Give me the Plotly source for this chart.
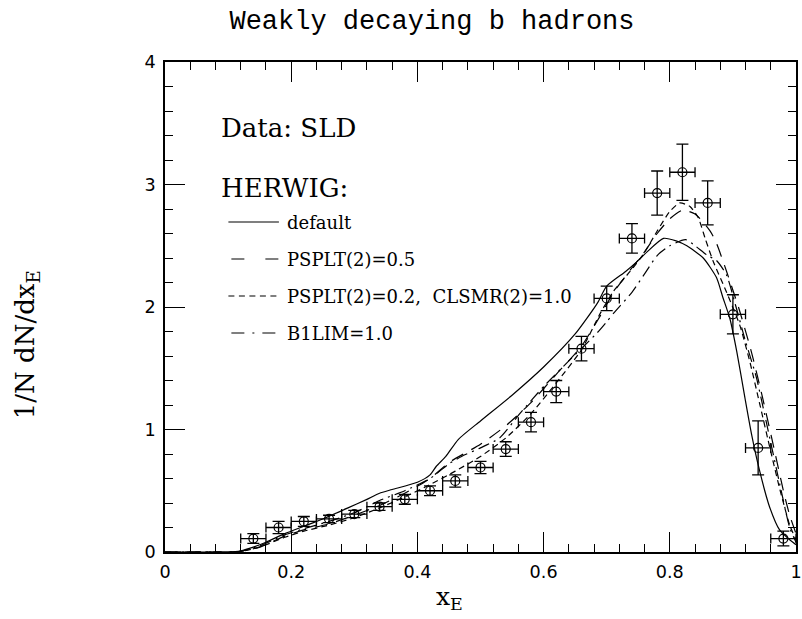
import plotly.graph_objects as go

# ---------------- data ----------------
data_x = [0.14, 0.18, 0.22, 0.26, 0.30, 0.34, 0.38, 0.42, 0.46, 0.50, 0.54,
          0.58, 0.62, 0.66, 0.70, 0.74, 0.78, 0.82, 0.86, 0.90, 0.94, 0.98]
data_y = [0.11, 0.20, 0.25, 0.27, 0.31, 0.37, 0.43, 0.50, 0.58, 0.69, 0.84,
          1.06, 1.31, 1.66, 2.07, 2.56, 2.93, 3.10, 2.85, 1.94, 0.85, 0.11]
data_ey = [0.04, 0.05, 0.04, 0.03, 0.03, 0.03, 0.04, 0.04, 0.05, 0.05, 0.06,
           0.08, 0.09, 0.10, 0.10, 0.12, 0.18, 0.23, 0.18, 0.16, 0.22, 0.06]
data_ex = [0.02] * len(data_x)

default_x = [0.0, 0.10, 0.12, 0.14, 0.16, 0.19, 0.22, 0.25, 0.29, 0.32, 0.34, 0.36,
             0.40, 0.42, 0.43, 0.445, 0.465, 0.50, 0.55, 0.60, 0.65, 0.685, 0.70,
             0.73, 0.748, 0.764, 0.79, 0.81, 0.827, 0.853, 0.874, 0.884, 0.895,
             0.906, 0.919, 0.93, 0.942, 0.958, 0.974, 0.99, 1.0]
default_y = [0.0, 0.0, 0.01, 0.04, 0.08, 0.15, 0.21, 0.27, 0.36, 0.43, 0.48, 0.51,
             0.57, 0.63, 0.70, 0.78, 0.92, 1.07, 1.28, 1.51, 1.78, 2.03, 2.17,
             2.29, 2.37, 2.45, 2.56, 2.54, 2.50, 2.40, 2.24, 2.08, 1.91,
             1.64, 1.26, 0.95, 0.67, 0.37, 0.18, 0.10, 0.06]

psplt05_x = [0.0, 0.10, 0.12, 0.15, 0.19, 0.22, 0.26, 0.30, 0.34, 0.38, 0.42, 0.45,
             0.50, 0.54, 0.58, 0.62, 0.66, 0.69, 0.711, 0.737, 0.76, 0.78, 0.80,
             0.82, 0.84, 0.864, 0.874, 0.89, 0.91, 0.93, 0.947, 0.965, 0.98, 0.99, 1.0]
psplt05_y = [0.0, 0.0, 0.005, 0.04, 0.13, 0.18, 0.23, 0.30, 0.38, 0.48, 0.60, 0.73,
             0.88, 1.03, 1.22, 1.45, 1.68, 1.93, 2.12, 2.30, 2.45, 2.60, 2.72,
             2.79, 2.76, 2.62, 2.52, 2.29, 1.98, 1.62, 1.26, 0.85, 0.50, 0.30, 0.15]

psplt02_x = [0.0, 0.10, 0.12, 0.15, 0.19, 0.22, 0.26, 0.30, 0.34, 0.38, 0.42, 0.46,
             0.50, 0.54, 0.58, 0.62, 0.66, 0.69, 0.711, 0.737, 0.758, 0.78, 0.80,
             0.816, 0.832, 0.845, 0.856, 0.869, 0.89, 0.911, 0.927, 0.942, 0.96,
             0.975, 0.99, 1.0]
psplt02_y = [0.0, 0.0, 0.005, 0.04, 0.12, 0.17, 0.22, 0.28, 0.36, 0.45, 0.55, 0.66,
             0.78, 0.93, 1.13, 1.38, 1.65, 1.95, 2.13, 2.29, 2.43, 2.62, 2.78,
             2.85, 2.82, 2.73, 2.56, 2.37, 2.12, 1.85, 1.55, 1.22, 0.82,
             0.50, 0.22, 0.10]

b1lim_x = [0.0, 0.10, 0.12, 0.15, 0.19, 0.22, 0.26, 0.30, 0.34, 0.38, 0.42, 0.45,
           0.47, 0.50, 0.53, 0.564, 0.60, 0.64, 0.685, 0.70, 0.711, 0.74, 0.76,
           0.78, 0.80, 0.825, 0.84, 0.86, 0.874, 0.89, 0.905, 0.92, 0.937, 0.95,
           0.974, 0.99, 1.0]
b1lim_y = [0.0, 0.0, 0.005, 0.05, 0.14, 0.19, 0.25, 0.32, 0.42, 0.50, 0.60, 0.72,
           0.78, 0.85, 0.93, 1.14, 1.35, 1.56, 1.79, 1.88, 1.95, 2.12, 2.27,
           2.42, 2.50, 2.55, 2.50, 2.42, 2.38, 2.26, 2.00, 1.72, 1.43, 1.13,
           0.56, 0.20, 0.08]

legend_labels = ["default", "PSPLT(2)=0.5", "PSPLT(2)=0.2,  CLSMR(2)=1.0", "B1LIM=1.0"]
line_dashes = ["solid", "13px,9px", "6px,4px", "12px,5px,2px,5px"]
legend_dashes = ["solid", "13px,21px", "6px,4.5px", "13px,8px,2px,8px"]

x_ticks = [0, 0.2, 0.4, 0.6, 0.8, 1]
x_ticklabels = ["0", "0.2", "0.4", "0.6", "0.8", "1"]
y_ticks = [0, 1, 2, 3, 4]
y_ticklabels = ["0", "1", "2", "3", "4"]

# ---------------- figure ----------------
W, H = 802, 619
L, R, T, B = 165, 0, 62, 67
pw, ph = W - L - R, H - T - B


def px(xp):
    return (xp - L) / pw


def py(yp):
    return (H - B - yp) / ph


fig = go.Figure()
curves = [(default_x, default_y), (psplt05_x, psplt05_y),
          (psplt02_x, psplt02_y), (b1lim_x, b1lim_y)]
for (cx, cy), name, dash in zip(curves, legend_labels, line_dashes):
    fig.add_trace(go.Scatter(x=cx, y=cy, mode="lines", name=name,
                             line=dict(color="black", width=1.2, dash=dash, shape="spline", smoothing=0.6),
                             showlegend=False))

fig.add_trace(go.Scatter(
    x=data_x, y=data_y, mode="markers", name="SLD",
    marker=dict(symbol="circle-open", size=9, color="black", line=dict(width=1.2)),
    error_y=dict(type="data", array=data_ey, visible=True, color="black", thickness=1.3, width=6),
    error_x=dict(type="data", array=data_ex, visible=True, color="black", thickness=1.3, width=5),
    showlegend=False))

serif = "DejaVu Serif"
tickfont = dict(family="DejaVu Sans", size=17.6, color="black")

fig.update_layout(
    width=W, height=H,
    margin=dict(l=L, r=R, t=T, b=B, pad=0),
    paper_bgcolor="white", plot_bgcolor="white",
    title=dict(text="Weakly decaying b hadrons", xref="container", yref="container",
               x=432 / W, xanchor="center", y=1 - 20 / H, yanchor="middle",
               font=dict(family="Liberation Mono", size=27, color="black")),
    xaxis=dict(range=[0, 1], tickvals=x_ticks, ticktext=x_ticklabels,
               ticks="inside", ticklen=20, tickwidth=1.3, tickcolor="black",
               minor=dict(dtick=0.04, tick0=0, ticks="inside", ticklen=8, tickwidth=1.1, tickcolor="black"),
               showline=True, linecolor="black", linewidth=1.5, mirror="allticks",
               showgrid=False, zeroline=False, tickfont=tickfont, ticklabelstandoff=3,
               ticklabeloverflow="allow"),
    yaxis=dict(range=[0, 4], tickvals=y_ticks, ticktext=y_ticklabels,
               ticks="inside", ticklen=20, tickwidth=1.3, tickcolor="black",
               minor=dict(dtick=0.2, tick0=0, ticks="inside", ticklen=8, tickwidth=1.1, tickcolor="black"),
               showline=True, linecolor="black", linewidth=1.5, mirror="allticks",
               showgrid=False, zeroline=False, tickfont=tickfont, ticklabelstandoff=4,
               ticklabeloverflow="allow"),
)

ann = []
ann.append(dict(text="Data: SLD", x=px(220), y=py(128), xref="paper", yref="paper",
                xanchor="left", yanchor="middle", showarrow=False,
                font=dict(family=serif, size=26, color="black")))
ann.append(dict(text="HERWIG:", x=px(220), y=py(188), xref="paper", yref="paper",
                xanchor="left", yanchor="middle", showarrow=False,
                font=dict(family=serif, size=26, color="black")))
leg_y = [222, 259, 296, 333]
for lab, dash, yy in zip(legend_labels, legend_dashes, leg_y):
    ann.append(dict(text=lab, x=px(286), y=py(yy), xref="paper", yref="paper",
                    xanchor="left", yanchor="middle", showarrow=False,
                    font=dict(family=serif, size=18, color="black")))
    x0 = 229 if dash in ("solid", "6px,4.5px") else 232
    fig.add_shape(type="line", xref="paper", yref="paper",
                  x0=px(x0), x1=px(280), y0=py(yy), y1=py(yy),
                  line=dict(color="black", width=1.2, dash=dash))

ann.append(dict(text="1/N dN/dx<sub>E</sub>", x=px(25), y=py(345), xref="paper", yref="paper",
                textangle=-90, xanchor="center", yanchor="middle", showarrow=False,
                font=dict(family=serif, size=26, color="black")))
ann.append(dict(text="x<sub>E</sub>", x=px(452), y=py(598), xref="paper", yref="paper",
                xanchor="center", yanchor="middle", showarrow=False,
                font=dict(family=serif, size=25, color="black")))
fig.update_layout(annotations=ann)

fig.write_html("out.html")
